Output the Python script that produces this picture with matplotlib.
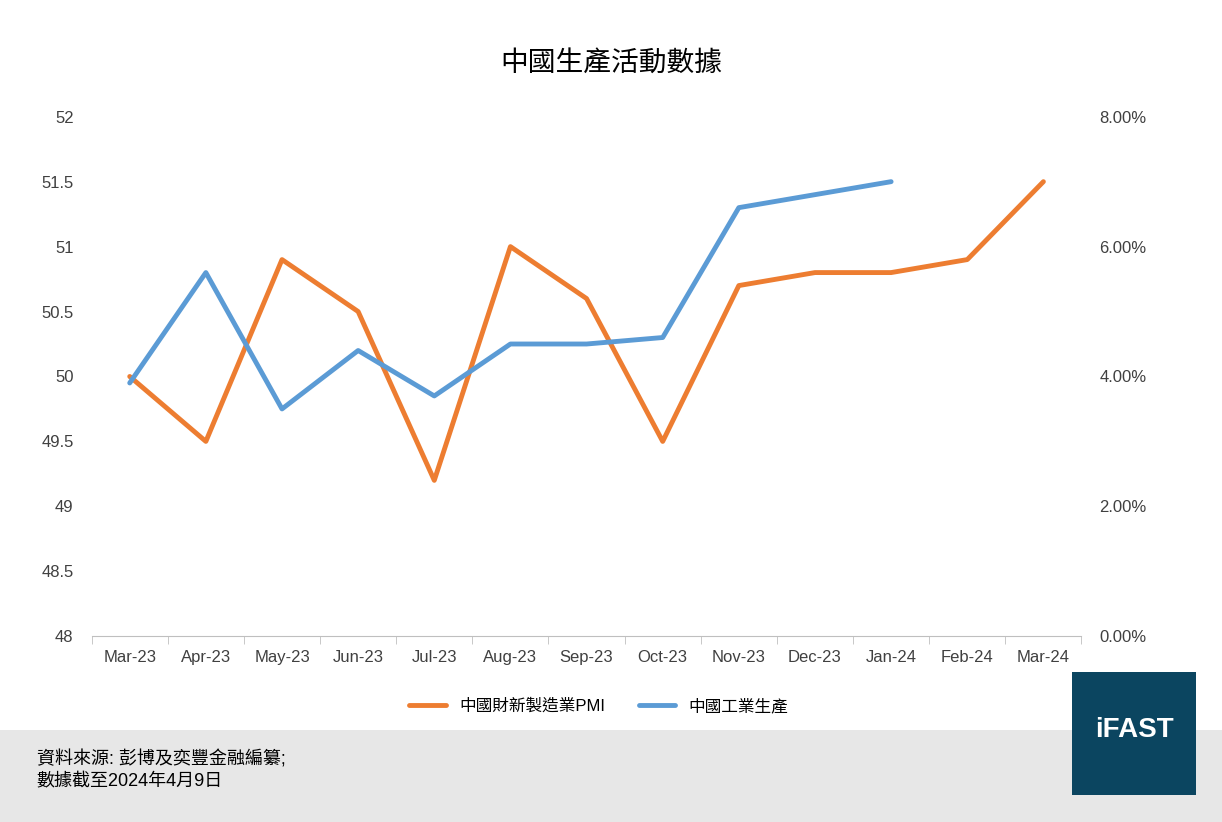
import matplotlib.pyplot as plt
import numpy as np
from matplotlib.patches import Rectangle
from matplotlib.ticker import FuncFormatter

plt.rcParams['font.family'] = ['Liberation Sans', 'Noto Sans CJK TC', 'DejaVu Sans']

months = ['Mar-23', 'Apr-23', 'May-23', 'Jun-23', 'Jul-23', 'Aug-23', 'Sep-23',
          'Oct-23', 'Nov-23', 'Dec-23', 'Jan-24', 'Feb-24', 'Mar-24']
pmi = [50.0, 49.5, 50.9, 50.5, 49.2, 51.0, 50.6, 49.5, 50.7, 50.8, 50.8, 50.9, 51.5]
ip = [3.9, 5.6, 3.5, 4.4, 3.7, 4.5, 4.5, 4.6, 6.6, 6.8, 7.0, np.nan, np.nan]

fig = plt.figure(figsize=(12.22, 8.22), dpi=100)
ax = fig.add_axes([0.075, 0.226, 0.81, 0.632])
ax2 = ax.twinx()
x = np.arange(len(months))

l1, = ax.plot(x, pmi, color='#ED7D31', lw=3.5, solid_capstyle='round', label='中國財新製造業PMI')
l2, = ax2.plot(x, ip, color='#5B9BD5', lw=3.5, solid_capstyle='round', label='中國工業生產')

ax.set_ylim(48, 52)
ax.set_yticks(np.arange(48, 52.01, 0.5))
ax.yaxis.set_major_formatter(FuncFormatter(lambda v, p: f'{v:g}'))
ax2.set_ylim(0, 8)
ax2.set_yticks(np.arange(0, 8.01, 2))
ax2.yaxis.set_major_formatter(FuncFormatter(lambda v, p: f'{v:.2f}%'))
ax.set_xlim(-0.5, len(months) - 0.5)
ax.set_xticks(x)
ax.set_xticklabels(months)
ax.set_xticks(np.arange(-0.5, len(months), 1), minor=True)
ax.tick_params(axis='x', which='major', length=0, pad=10, labelsize=12, colors='#404040')
ax.tick_params(axis='x', which='minor', length=6, color='#BFBFBF')
ax.tick_params(axis='y', length=0, labelsize=12, colors='#404040', pad=13)
ax2.tick_params(axis='y', length=0, labelsize=12, colors='#404040', pad=13)
for a in (ax, ax2):
    for s in ('top', 'left', 'right'):
        a.spines[s].set_visible(False)
ax.spines['bottom'].set_color('#BFBFBF')
ax2.spines['bottom'].set_visible(False)

fig.text(0.5, 0.923, '中國生產活動數據', ha='center', va='center', fontsize=20)
fig.legend(handles=[l1, l2], loc='center', bbox_to_anchor=(0.49, 0.141), ncol=2,
           frameon=False, fontsize=12, handlelength=2.2)

fig.patches.append(Rectangle((0, 0), 1, 0.112, transform=fig.transFigure,
                             facecolor='#E7E7E7', edgecolor='none', zorder=0))
fig.patches.append(Rectangle((0.877, 0.033), 0.102, 0.149, transform=fig.transFigure,
                             facecolor='#0B4560', edgecolor='none', zorder=1))
fig.text(0.928, 0.112, 'iFAST', ha='center', va='center', fontsize=20,
         color='white', fontweight='bold', zorder=2)
fig.text(0.03, 0.063, '資料來源: 彭博及奕豐金融編纂;\n數據截至2024年4月9日', ha='left',
         va='center', fontsize=13, linespacing=1.4)

fig.savefig('out.png')
